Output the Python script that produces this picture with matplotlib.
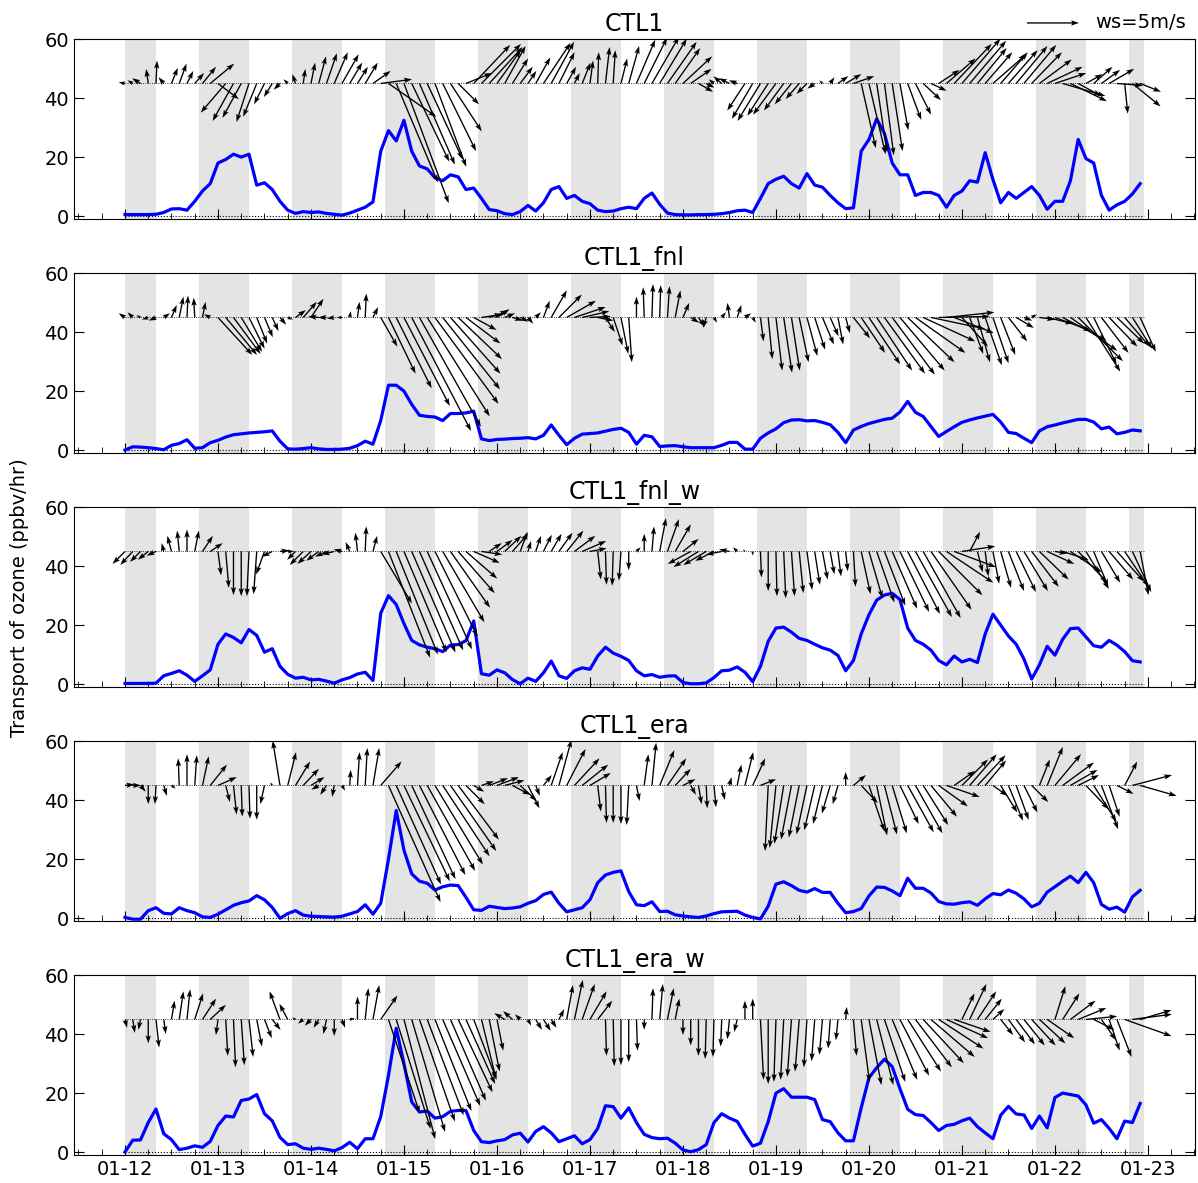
import numpy as np
import matplotlib
matplotlib.use("Agg")
import matplotlib.pyplot as plt
import matplotlib.dates as mdates

# 2-hourly samples starting 01-12 00:00
times = np.arange(np.datetime64("2019-01-12T00"), np.datetime64("2019-01-23T00"),
                  np.timedelta64(2, "h"))
first_hour = np.datetime64("2019-01-12T00")
last_hour = np.datetime64("2019-01-22T23")

titles = ["CTL1", "CTL1_fnl", "CTL1_fnl_w", "CTL1_era", "CTL1_era_w"]

# ozone transport (ppbv/hr)
ctl1_o3 = [0.5, 0.5, 0.5, 0.5, 0.6, 1.2, 2.4, 2.5, 2.0, 5.0, 8.5, 11.0,
           18.0, 19.2, 21.0, 20.0, 21.0, 10.5, 11.3, 9.0, 5.0, 2.0, 0.9, 1.5,
           1.2, 1.4, 0.9, 0.6, 0.3, 1.0, 2.0, 3.0, 4.8, 22.0, 29.0, 25.5,
           32.5, 22.0, 17.0, 16.0, 13.0, 12.0, 14.0, 13.3, 9.0, 9.5, 6.0, 2.2,
           1.8, 0.8, 0.5, 1.5, 3.6, 1.7, 4.5, 9.0, 10.0, 6.0, 7.0, 5.0,
           4.2, 2.0, 1.5, 1.7, 2.5, 3.0, 2.5, 6.0, 7.8, 4.0, 1.0, 0.5,
           0.4, 0.4, 0.5, 0.5, 0.6, 0.8, 1.2, 1.8, 2.0, 1.2, 6.0, 11.0,
           12.5, 13.5, 11.0, 9.5, 14.4, 10.5, 9.8, 7.0, 4.5, 2.5, 2.8, 22.0,
           26.0, 33.0, 28.0, 18.0, 14.0, 14.0, 7.0, 8.0, 8.0, 7.0, 3.0, 7.0,
           8.5, 12.0, 11.5, 21.5, 12.4, 4.5, 8.0, 6.0, 8.0, 10.0, 7.0, 2.3,
           5.0, 5.0, 12.0, 26.0, 19.5, 18.0, 7.0, 2.0, 3.8, 5.0, 7.5, 11.0]
fnl_o3 = [0.0, 1.1, 1.0, 0.8, 0.5, 0.1, 1.6, 2.2, 3.5, 0.6, 0.8, 2.5,
          3.3, 4.4, 5.2, 5.5, 5.8, 6.0, 6.2, 6.5, 3.0, 0.4, 0.3, 0.5,
          0.8, 0.4, 0.2, 0.2, 0.3, 0.6, 1.5, 3.0, 2.0, 10.0, 22.0, 22.0,
          20.0, 15.5, 11.8, 11.4, 11.2, 10.0, 12.4, 12.4, 12.6, 13.2, 3.8, 3.2,
          3.6, 3.7, 3.9, 4.0, 4.2, 3.8, 5.0, 8.5, 5.0, 1.8, 4.0, 5.4,
          5.6, 5.8, 6.4, 7.0, 7.4, 6.0, 2.0, 5.0, 4.5, 1.2, 1.4, 1.5,
          1.1, 0.8, 0.8, 0.8, 0.8, 1.6, 2.6, 2.6, 0.3, 0.3, 4.0, 5.8,
          7.2, 9.3, 10.2, 10.3, 9.9, 10.0, 9.4, 8.6, 6.0, 2.5, 6.8, 8.0,
          9.0, 9.7, 10.4, 10.8, 12.9, 16.5, 12.8, 11.4, 8.0, 4.6, 6.3, 7.9,
          9.4, 10.2, 10.9, 11.5, 12.1, 9.5, 6.0, 5.6, 4.0, 2.5, 6.5, 7.9,
          8.5, 9.2, 9.8, 10.4, 10.4, 9.5, 7.2, 7.8, 5.5, 6.0, 6.8, 6.5]
fnl_w_o3 = [0.2, 0.2, 0.2, 0.2, 0.3, 2.8, 3.6, 4.5, 3.0, 0.9, 2.8, 4.8,
            13.5, 17.0, 15.8, 14.0, 18.5, 16.5, 10.8, 12.0, 6.0, 3.3, 2.0, 2.3,
            1.4, 1.6, 1.0, 0.3, 1.4, 2.2, 3.4, 4.0, 1.2, 24.0, 30.0, 27.0,
            20.5, 14.8, 13.3, 12.5, 12.0, 11.0, 13.2, 13.4, 14.7, 21.4, 3.5, 3.0,
            4.8, 3.8, 1.5, 0.1, 2.0, 0.9, 3.8, 7.8, 2.8, 1.9, 4.5, 5.5,
            5.0, 9.5, 12.5, 10.5, 9.4, 8.0, 4.5, 2.8, 3.2, 2.3, 2.7, 2.8,
            0.5, 0.1, 0.1, 0.4, 2.2, 4.5, 4.7, 5.8, 4.0, 0.8, 6.0, 14.5,
            19.0, 19.3, 17.6, 15.5, 14.8, 13.5, 12.3, 11.5, 9.7, 4.5, 8.0, 17.0,
            23.5, 28.5, 30.2, 30.8, 28.7, 19.0, 14.8, 13.5, 11.5, 8.0, 6.5, 9.5,
            7.5, 8.4, 7.3, 17.0, 23.7, 20.0, 16.3, 13.5, 8.5, 1.7, 6.5, 12.8,
            9.8, 15.2, 18.8, 19.0, 16.0, 13.0, 12.5, 14.8, 13.2, 11.0, 7.9, 7.5]
era_o3 = [0.2, -0.4, -0.4, 2.5, 3.5, 1.6, 1.4, 3.5, 2.5, 1.8, 0.4, 0.2,
          1.3, 2.8, 4.3, 5.2, 5.8, 7.6, 6.2, 3.6, -0.1, 1.5, 2.5, 1.0,
          0.6, 0.5, 0.4, 0.3, 0.6, 1.4, 2.2, 4.5, 1.3, 5.0, 20.0, 36.5,
          23.0, 15.0, 12.5, 11.8, 9.5, 10.6, 11.2, 11.0, 7.0, 2.8, 2.6, 4.0,
          3.6, 3.2, 3.4, 3.8, 5.0, 5.9, 8.0, 8.8, 5.0, 2.1, 2.8, 3.5,
          6.2, 12.0, 14.6, 15.5, 16.0, 9.0, 4.5, 4.2, 5.5, 2.2, 2.3, 1.1,
          0.7, 0.4, 0.2, 0.7, 1.5, 2.1, 2.2, 2.3, 1.0, 0.2, -0.3, 4.0,
          11.5, 12.3, 11.0, 9.4, 8.8, 10.0, 8.7, 8.7, 5.0, 1.8, 2.2, 3.2,
          7.5, 10.5, 10.4, 9.2, 7.6, 13.5, 10.1, 10.1, 8.5, 5.6, 4.8, 4.7,
          5.2, 5.5, 4.3, 6.5, 8.3, 7.9, 9.5, 8.4, 6.5, 3.8, 5.0, 8.8,
          10.6, 12.5, 14.2, 12.0, 15.5, 12.0, 4.6, 3.0, 3.7, 2.0, 7.2, 9.4]
era_w_o3 = [0.0, 4.0, 4.1, 10.0, 14.6, 6.2, 4.2, 0.8, 1.3, 2.1, 1.6, 3.6,
            9.0, 12.2, 11.9, 17.5, 18.0, 19.5, 13.0, 10.6, 5.0, 2.5, 2.8, 1.3,
            0.9, 1.3, 0.9, 0.4, 1.5, 3.3, 1.1, 4.5, 4.5, 12.0, 26.0, 42.0,
            30.0, 17.0, 13.6, 13.9, 11.5, 12.0, 13.8, 14.1, 14.1, 7.3, 3.5, 3.2,
            3.8, 4.2, 5.8, 6.4, 3.4, 7.0, 8.6, 6.5, 3.5, 4.5, 5.5, 2.8,
            4.2, 8.0, 15.7, 15.4, 11.5, 15.0, 10.0, 6.0, 4.9, 4.5, 4.7, 3.0,
            0.7, 0.1, 0.8, 2.5, 10.0, 13.0, 11.5, 10.4, 6.0, 2.0, 3.0, 10.3,
            20.0, 21.5, 18.6, 18.6, 18.6, 17.8, 11.0, 10.3, 6.5, 3.8, 3.8, 15.0,
            25.2, 28.6, 31.5, 29.0, 21.5, 14.5, 12.7, 12.4, 10.0, 7.3, 9.0, 9.4,
            10.6, 11.5, 8.6, 6.5, 4.5, 12.5, 15.5, 12.9, 12.6, 8.0, 12.2, 8.2,
            18.5, 20.0, 19.5, 19.0, 16.0, 9.8, 11.0, 8.0, 4.5, 10.5, 10.0, 16.5]

# wind components (m/s)
ctl1_u = [-0.6, -0.5, -0.8, -0.2, 0.1, -0.5, 0.6, 0.7, 0.6, 0.9, 1.3, 2.3,
          2.0, -2.4, -2.0, -1.8, -1.2, -1.3, -1.0, -0.8, -0.6, -0.4, -0.3, 0.2,
          0.4, 0.7, 1.0, 1.3, 1.6, 1.2, 1.0, 1.2, 1.7, 3.0, 4.6, 4.0,
          4.3, 3.6, 3.4, 3.4, 3.0, 3.2, 3.0, 2.0, 2.5, 3.5, 3.8, 3.2,
          2.3, 2.0, 1.5, 1.2, 0.8, 1.4, 2.6, 2.2, 1.5, 0.9, 0.5, 0.8,
          0.3, 0.1, 0.4, 0.2, 0.6, 1.0, 1.8, 2.2, 2.6, 2.6, 2.8, 2.4,
          2.8, 2.0, 1.4, 0.8, -0.5, -0.8, -1.0, -0.8, -1.7, -2.0, -2.2, -2.0,
          -2.2, -1.9, -1.6, -1.3, -1.0, -0.7, -0.3, 0.4, 1.0, 1.5, 2.0, 1.4,
          1.6, 1.0, 0.9, 1.0, 0.8, 1.3, 1.5, 1.7, 1.5, 2.0, 2.8, 3.6,
          3.7, 3.5, 2.8, 2.6, 3.2, 2.6, 2.8, 3.0, 3.1, 2.9, 3.1, 3.4,
          3.0, 4.1, 3.5, 2.2, 1.6, 1.8, 1.8, 2.4, 2.5, 0.3, 2.7, 2.0]
ctl1_v = [0.1, 0.3, 0.5, 1.4, 2.2, 0.6, 1.5, 1.9, 1.2, 1.0, 1.6, 1.9,
          -1.5, -2.8, -3.6, -3.3, -3.7, -3.2, -2.0, -1.3, -0.6, 0.4, 0.9, 1.4,
          2.0, 2.6, 2.9, 3.0, 2.8, 2.0, 1.6, 2.0, 1.2, 0.4, -3.2, -9.5,
          -11.5, -7.5, -7.8, -7.3, -8.0, -6.5, -4.6, -2.0, 1.0, 3.7, 3.8, 3.5,
          3.2, 3.6, 2.4, 1.6, 1.2, 2.5, 3.9, 4.0, 3.0, 1.6, 1.0, 2.0,
          2.2, 3.0, 3.5, 3.2, 2.4, 3.6, 4.2, 4.4, 4.5, 4.3, 4.0, 3.4,
          2.6, 1.4, -0.8, -0.4, 0.4, 0.7, 0.5, 0.3, -2.6, -3.4, -3.6, -3.1,
          -3.0, -2.6, -2.0, -1.5, -1.0, -0.5, 0.3, 0.6, 0.7, 0.9, 0.7, -6.2,
          -6.8, -6.6, -6.9, -6.5, -4.5, -3.5, -3.0, -1.6, -0.7, 1.3, 2.4, 3.8,
          4.3, 4.1, 3.4, 3.0, 2.8, 3.0, 3.2, 3.6, 3.7, 3.0, 2.3, 1.6,
          1.0, -1.2, -1.7, -1.2, 0.9, 1.6, 1.3, 1.4, -0.2, -2.9, -2.2, -0.8]
fnl_u = [-0.6, -0.5, -0.4, -0.6, -0.7, 0.6, 0.5, 0.4, 0.1, -0.1, 0.3, -0.6,
         3.3, 3.0, 2.6, 2.0, 1.5, 1.0, 0.8, 0.6, 0.6, 0.5, 1.0, 1.3,
         1.2, -1.0, -0.8, -0.7, -0.5, 0.1, 0.2, 0.1, 0.5, 1.6, 2.6, 3.4,
         4.4, 5.7, 5.9, 6.0, 6.1, 5.5, 4.8, 4.2, 3.3, 2.2, 2.0, 1.8,
         1.2, 1.0, 1.0, 0.8, 0.5, 0.5, 0.6, 1.5, 2.2, 2.8, 3.0, 2.6,
         2.0, 1.5, 0.9, 0.9, 0.7, 0.3, 0.0, -0.1, 0.1, 0.1, 0.2, 0.5,
         0.6, 0.8, 0.6, -0.3, 0.3, 0.4, -0.2, 0.4, 0.6, 0.3, 0.3, 0.4,
         0.6, 0.8, 0.8, 0.9, 1.0, 1.0, 1.1, 0.8, 0.5, 0.4, 1.6, 2.3,
         3.0, 3.4, 3.9, 4.1, 4.3, 4.5, 4.8, 5.0, 5.2, 4.9, 4.6, 3.8,
         2.5, 1.3, 1.2, 1.6, 1.5, 1.4, 1.8, 1.7, 0.8, 0.5, 1.5, 2.5,
         3.5, 4.2, 4.5, 4.3, 3.3, 2.2, 2.6, 2.7, 2.6, 2.4, 1.9, 1.5]
fnl_v = [0.4, 0.5, 0.2, -0.2, -0.3, 0.4, 1.2, 2.0, 2.1, 1.9, 1.5, 0.3,
         -3.6, -3.6, -3.5, -3.3, -3.0, -2.5, -1.9, -1.3, -0.7, -0.2, 0.7, 1.5,
         1.8, 0.1, 0.0, -0.1, 0.0, 0.6, 1.5, 2.3, 1.0, -2.8, -5.4, -6.8,
         -8.5, -10.9, -10.5, -9.5, -8.3, -6.9, -5.4, -4.0, -2.5, -1.2, 0.3, 0.6,
         0.8, 0.4, -0.3, -0.4, -0.6, 0.5, 1.6, 2.6, 2.2, 1.6, 1.0, 0.6,
         0.1, -0.3, -1.4, -2.7, -3.5, -4.3, 2.0, 2.9, 3.2, 3.1, 3.0, 2.6,
         1.4, -0.5, -0.9, -1.0, -0.5, 0.5, 1.4, 1.2, 0.4, -0.5, -2.3, -4.0,
         -5.1, -5.3, -5.1, -4.3, -3.7, -3.1, -2.6, -1.8, -2.6, -1.5, -2.0, -3.4,
         -4.5, -5.1, -5.4, -5.5, -5.1, -4.3, -3.4, -2.3, -1.1, 0.1, 0.5, -1.5,
         -2.8, -3.5, -4.3, -4.6, -4.4, -3.6, -2.3, -1.0, -0.3, 0.3, -0.2, -0.6,
         -1.3, -2.2, -3.2, -4.2, -5.2, -4.5, -3.4, -2.8, -2.5, -2.8, -3.0, -3.3]
fnl_w_u = [-1.2, -1.2, -1.0, -1.0, -0.9, -0.2, -0.4, -0.2, 0.0, 0.4, 1.0, 1.2,
           0.3, 0.3, 0.0, 0.0, -0.2, -0.3, -0.8, -1.0, 0.9, 0.6, -0.8, -1.3,
           -1.3, -1.2, -1.1, -1.2, -0.8, -0.4, -0.2, 0.1, 0.4, 3.0, 4.0, 4.0,
           4.1, 4.2, 4.2, 4.3, 4.1, 4.0, 3.8, 3.5, 3.0, 2.5, 2.0, 1.2,
           1.5, 1.6, 1.5, 0.7, 0.3, 0.5, 0.8, 1.0, 1.3, 1.6, 2.0, 2.3,
           1.6, 0.3, 0.1, -0.1, -0.2, 0.0, 0.4, 0.0, 0.2, 0.6, 1.1, 1.5,
           1.5, -2.2, -2.4, -2.2, -1.8, -1.5, -1.0, -0.4, -0.2, 0.0, 0.1, 0.0,
           0.1, 0.2, 0.3, 0.4, 0.5, 0.5, 0.5, 0.4, 0.3, 0.2, 0.2, 0.9,
           1.3, 1.7, 2.0, 2.4, 2.8, 3.1, 3.5, 3.6, 3.9, 4.2, 4.5, 4.0,
           3.2, 1.0, 0.5, 0.3, 0.6, 1.0, 1.5, 1.9, 2.3, 2.6, 2.8, 2.6,
           1.2, 2.5, 3.0, 2.8, 2.2, 1.4, 1.8, 2.3, 2.6, 2.3, 1.8, 0.8]
fnl_w_v = [-1.2, -1.3, -1.0, -0.8, -0.4, 0.8, 1.5, 2.0, 2.1, 2.0, 1.5, 0.8,
           -2.3, -3.5, -4.2, -4.3, -4.3, -4.1, -2.2, -0.5, 0.1, 0.0, -0.8, -1.3,
           -1.2, -0.9, -0.5, -0.3, 0.2, 0.9, 1.8, 2.4, 1.5, -5.0, -10.2, -9.9,
           -9.7, -9.7, -9.5, -9.4, -8.2, -6.8, -5.4, -4.0, -2.6, -1.1, -0.3, 0.8,
           1.1, 1.5, 1.7, 1.9, 1.0, 1.5, 1.6, 1.7, 1.8, 2.0, 1.5, 1.0,
           0.3, -2.7, -3.2, -3.3, -2.8, -1.8, 0.4, 1.7, 2.4, 3.2, 3.1, 2.6,
           1.2, -1.2, -1.5, -1.3, -0.9, -0.3, 0.2, 0.4, 0.2, -0.4, -2.5, -3.8,
           -4.3, -4.5, -4.3, -4.0, -3.7, -3.2, -2.7, -2.2, -2.4, -1.9, -3.4, -4.1,
           -4.5, -4.9, -5.2, -5.5, -5.8, -6.0, -6.3, -6.4, -5.6, -4.2, -3.0, -1.5,
           0.5, 1.9, -2.0, -2.4, -3.1, -3.5, -3.8, -3.9, -3.8, -3.4, -2.7, -1.2,
           -0.2, -0.8, -2.0, -3.0, -3.6, -3.4, -3.0, -2.7, -2.9, -3.4, -3.9, -4.2]
era_u = [0.9, 0.8, 0.5, 0.0, -0.1, 0.3, 0.4, -0.1, 0.0, 0.2, 0.6, 1.6,
         1.8, 0.4, 0.3, 0.1, 0.1, 0.0, -0.4, -0.2, -0.7, 0.8, 1.4, 1.5,
         1.3, -0.7, -0.6, -0.2, 0.3, 0.1, 0.2, 0.2, 0.6, 2.0, 5.0, 4.3,
         4.4, 4.2, 4.4, 4.6, 4.6, 4.5, 4.4, 3.9, 1.8, 1.0, 1.2, 1.8,
         2.1, 1.9, 1.7, 1.6, 1.1, 0.4, 0.8, 1.1, 1.2, 1.8, 2.4, 2.5,
         2.0, 0.3, 0.1, 0.0, 0.0, -0.2, 0.3, 0.4, 0.4, 1.4, 1.8, 1.5,
         1.2, 0.5, 0.3, 0.1, 0.2, 0.3, 0.2, 0.4, 0.8, 1.2, 1.5, -0.3,
         -0.6, -0.9, -1.0, -1.0, -1.0, -1.0, -0.9, -0.8, -0.5, 0.0, 1.2, 1.6,
         1.5, 1.0, 1.2, 1.4, 1.8, 2.5, 2.6, 2.4, 2.5, 2.8, 3.2, 2.0,
         2.5, 2.6, 2.7, 2.0, 1.4, 1.6, 1.4, 1.2, 1.3, 1.6, 1.0, 1.5,
         2.5, 3.0, 2.6, 2.0, 2.2, 2.2, 1.6, 1.0, 1.6, 1.2, 3.8, 3.5]
era_v = [0.1, 0.0, -0.6, -1.8, -1.8, -1.0, -0.3, 2.6, 3.0, 2.9, 2.8, 2.0,
         0.8, -1.6, -2.8, -3.0, -3.2, -3.3, -1.8, 0.3, 4.3, 3.2, 2.3, 1.6,
         0.8, -0.4, -0.9, -1.1, -0.5, 1.5, 3.2, 3.6, 3.6, 2.3, -11.2, -9.5,
         -9.2, -9.0, -8.6, -8.2, -7.6, -6.8, -6.3, -5.2, -1.8, -0.6, 0.4, 0.7,
         0.8, 0.5, -0.9, -1.5, -2.2, -1.0, 1.0, 3.2, 4.4, 3.5, 2.6, 2.0,
         1.2, -2.5, -3.6, -3.6, -3.7, -3.8, -1.5, 3.0, 4.1, 3.4, 2.6, 1.6,
         0.6, -0.9, -1.8, -2.2, -2.1, -1.4, 0.8, 2.0, 3.2, 2.6, 0.6, -6.3,
         -6.0, -5.6, -5.2, -5.0, -4.7, -4.3, -3.7, -2.7, -1.8, 1.3, 1.0, -1.7,
         -4.4, -4.8, -4.7, -4.6, -3.7, -4.5, -4.6, -3.8, -3.0, -2.0, -1.1, 1.4,
         2.5, 3.0, 2.9, 2.4, -1.0, -2.6, -3.4, -3.3, -2.6, -1.6, 2.5, 3.7,
         3.0, 2.2, 1.5, 1.0, -2.3, -3.5, -4.2, -3.0, -0.8, 2.3, 1.0, -1.0]
era_w_u = [0.2, 0.2, -0.2, 0.0, 0.3, 0.2, 0.3, 0.4, 0.3, 0.8, 1.3, 1.5,
           -0.2, 0.2, 0.2, 0.3, 0.4, 0.5, 0.7, 0.8, -1.0, -0.8, -0.3, -0.5,
           -0.6, -0.5, -0.3, 0.0, 0.3, 0.5, 0.0, 0.3, 0.6, 1.6, 3.0, 3.3,
           3.0, 3.2, 3.4, 3.5, 3.5, 3.6, 3.4, 3.3, 2.8, 2.2, 1.4, 1.0,
           0.6, -1.0, -0.9, -0.5, 0.3, 0.6, 0.7, 0.5, 0.5, 0.6, 0.8, 1.2,
           1.6, 1.4, 0.1, 0.1, 0.0, 0.0, 0.1, 0.0, 0.1, 0.3, 0.6, 0.4,
           0.0, 0.0, 0.0, -0.1, -0.1, -0.1, -0.2, -0.3, 0.0, 0.0, 0.3, 0.0,
           -0.2, -0.3, -0.4, -0.4, -0.3, -0.3, -0.3, -0.2, -0.2, 0.1, 0.3, 0.8,
           1.2, 1.6, 2.0, 2.4, 2.8, 3.2, 3.5, 3.9, 4.2, 4.3, 4.0, 3.5,
           1.2, 1.6, 1.8, 1.6, 1.1, 1.2, 1.6, 1.8, 2.0, 2.3, 2.5, 2.6,
           1.0, 1.6, 2.4, 2.7, 3.0, 2.0, 1.4, 1.0, 1.4, 4.5, 3.8, 3.0]
era_w_v = [-0.8, -1.3, -1.0, -2.3, -2.7, -1.4, 1.8, 2.7, 2.9, 2.5, 2.0, 1.4,
           -1.5, -3.5, -4.6, -4.4, -3.6, -2.6, -1.8, -1.0, 2.7, 1.5, 0.2, -0.4,
           -0.6, -0.8, -1.4, -1.6, -0.8, 0.1, 2.2, 3.0, 3.3, 2.3, -9.0, -10.5,
           -11.5, -10.8, -9.8, -9.2, -8.8, -8.3, -7.8, -7.0, -6.2, -5.8, -5.7, -5.0,
           -3.0, 0.6, 0.8, 0.5, -0.6, -1.0, -1.1, -0.8, 1.0, 3.3, 3.8, 3.4,
           2.7, 1.8, -3.5, -4.5, -4.4, -4.1, -3.0, -1.0, 3.0, 3.4, 3.0, 2.0,
           -1.5, -2.5, -3.5, -3.8, -3.6, -2.6, -1.9, -1.2, 1.8, 2.0, -5.8, -6.2,
           -6.0, -5.8, -5.5, -5.0, -4.6, -4.0, -3.4, -2.8, -2.0, 1.2, -3.5, -6.0,
           -6.3, -6.3, -6.0, -5.8, -5.4, -5.0, -4.6, -4.2, -3.6, -2.8, -1.8, -1.2,
           2.5, 3.4, 2.7, 2.0, 1.0, -1.5, -2.2, -2.4, -2.5, -2.5, -2.3, -1.8,
           3.2, 2.5, 1.8, 1.1, 0.3, -1.0, -2.0, -3.0, -3.6, -1.6, 0.5, 0.9]

o3_series = [ctl1_o3, fnl_o3, fnl_w_o3, era_o3, era_w_o3]
u_series = [ctl1_u, fnl_u, fnl_w_u, era_u, era_w_u]
v_series = [ctl1_v, fnl_v, fnl_w_v, era_v, era_w_v]

night_start, night_end = 19, 8   # shaded hours
wind_base = 45                   # arrows drawn from this level
key_speed = 5

fig, axes = plt.subplots(5, 1, figsize=(11.98, 11.83), dpi=100, sharex=True)
fig.subplots_adjust(left=0.0618, right=0.9975, top=0.9668, bottom=0.0237, hspace=0.302)

xnum = mdates.date2num(times)
days = np.arange(np.datetime64("2019-01-11"), np.datetime64("2019-01-23"), np.timedelta64(1, "D"))
margin = np.timedelta64(789, "m")

for ax, title, o3, u, v in zip(axes, titles, o3_series, u_series, v_series):
    # night shading
    for d in days:
        s = max(d + np.timedelta64(night_start, "h"), first_hour)
        e = min(d + np.timedelta64(24 + night_end, "h"), last_hour)
        if e > s:
            ax.axvspan(mdates.date2num(s), mdates.date2num(e), color="#e4e4e4", lw=0, zorder=0)

    ax.plot([first_hour, last_hour], [0, 0], ":", color="k", lw=0.8, zorder=1)
    ax.plot([first_hour, last_hour], [wind_base, wind_base], ":", color="k", lw=0.6, zorder=1)
    ax.plot(times, o3, color="blue", lw=2.3, zorder=3)
    q = ax.quiver(xnum, np.full(len(xnum), wind_base), u, v, angles="uv",
                  scale_units="inches", scale=9.6, width=0.0012,
                  headwidth=4, headlength=6, headaxislength=5, color="k", zorder=4)
    if ax is axes[0]:
        key_q = q

    ax.set_title(title, fontsize=17, pad=6)
    ax.set_ylim(-1, 60)
    ax.set_yticks([0, 20, 40, 60])
    ax.set_xlim(mdates.date2num(first_hour - margin), mdates.date2num(last_hour + margin))
    ax.xaxis.set_major_locator(mdates.DayLocator())
    ax.xaxis.set_major_formatter(mdates.DateFormatter("%m-%d"))
    ax.xaxis.set_minor_locator(mdates.HourLocator(byhour=[6, 12, 18]))
    ax.tick_params(which="both", direction="in", right=True, labelsize=14)
    ax.tick_params(which="major", length=7)
    ax.tick_params(which="minor", length=4)

axes[0].quiverkey(key_q, 0.9007, 0.9806, key_speed, "ws=5m/s", labelpos="E",
                  coordinates="figure", labelsep=0.16, fontproperties={"size": 14})
fig.text(0.016, 0.495, "Transport of ozone (ppbv/hr)", rotation=90,
         va="center", ha="center", fontsize=14)

fig.savefig("out.png", dpi=100)
